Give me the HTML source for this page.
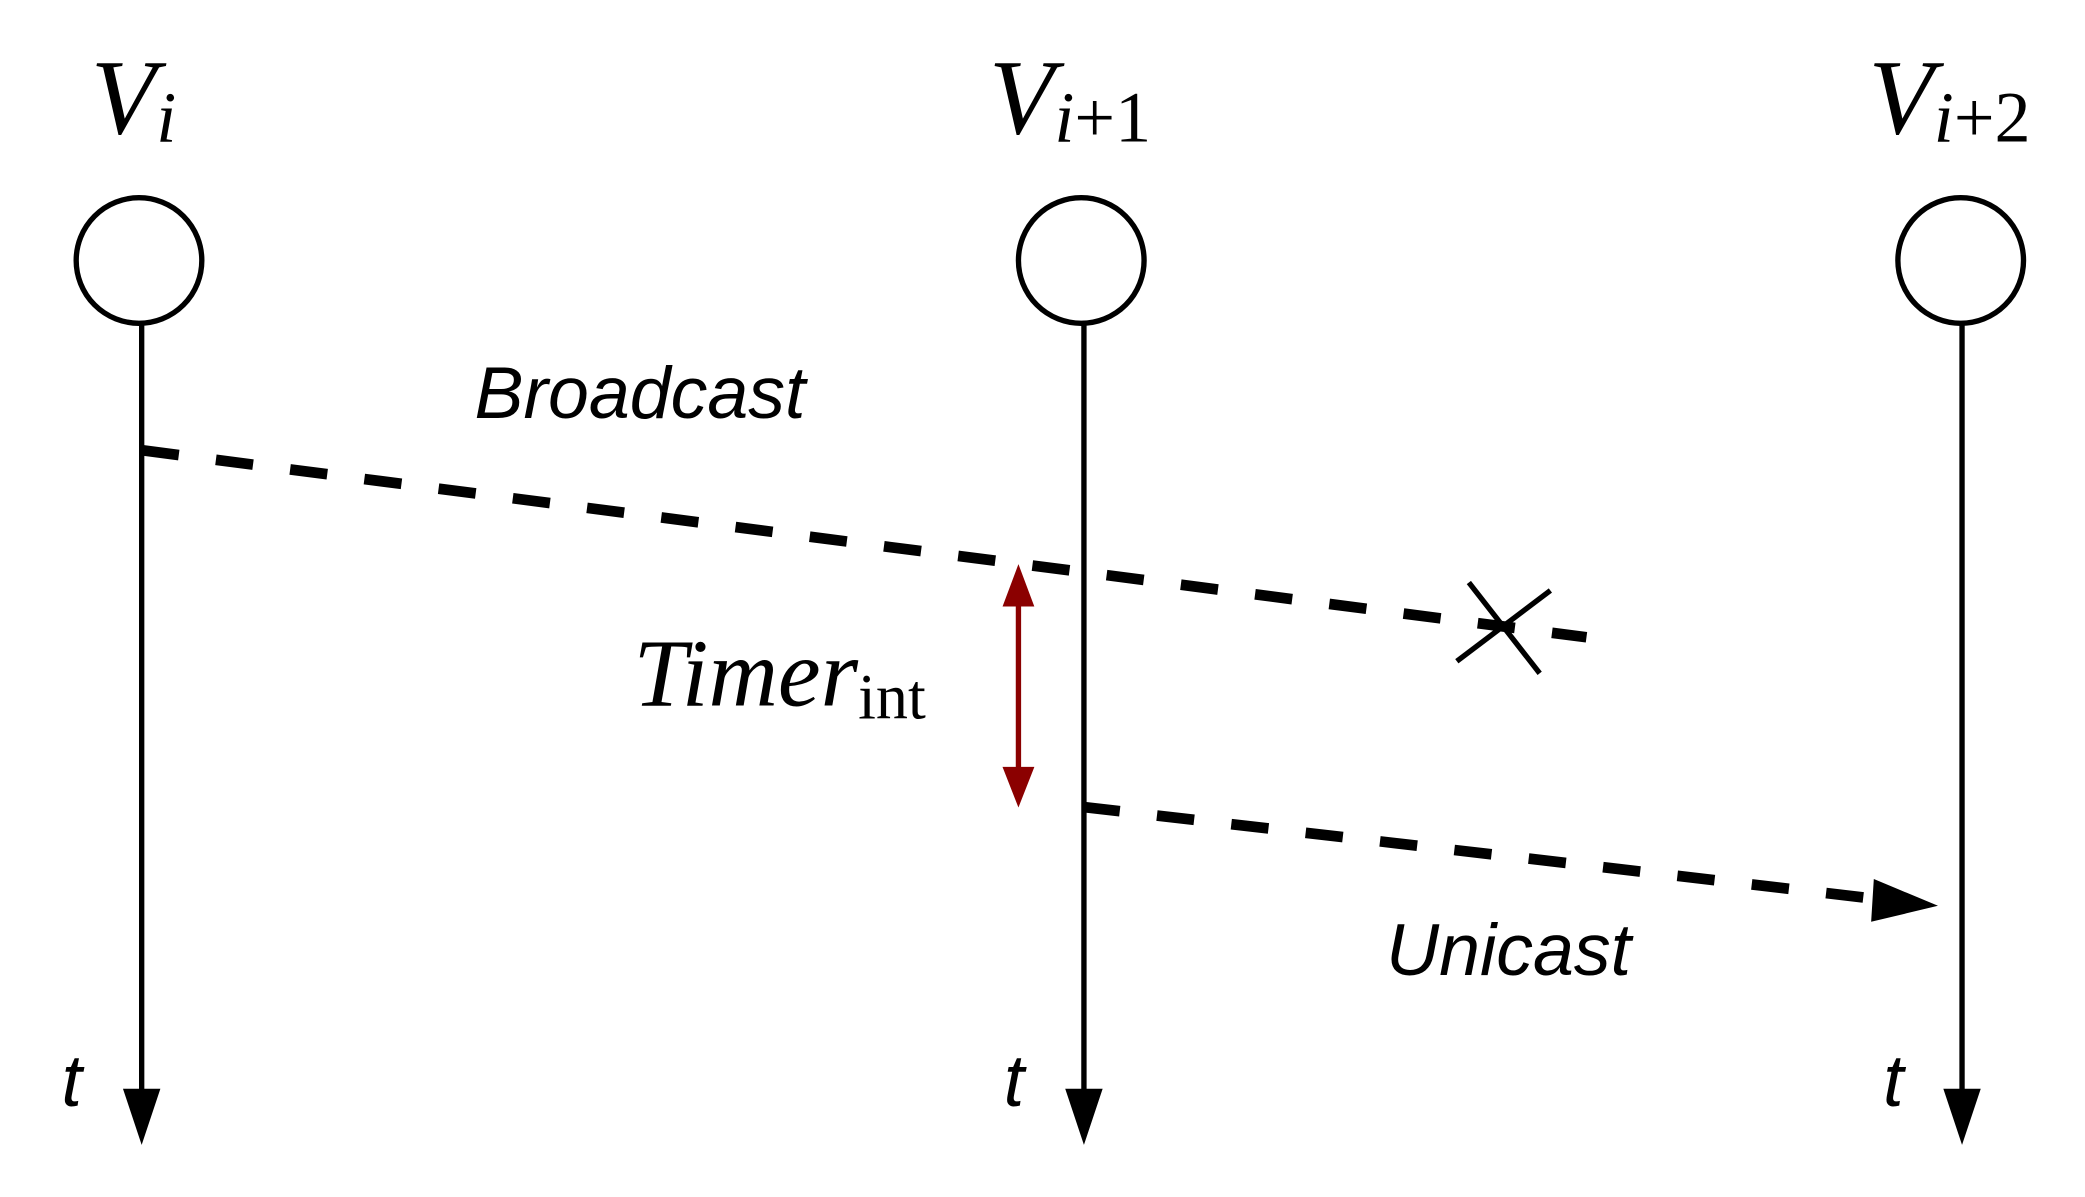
<!DOCTYPE html>
<html><head><style>html,body{margin:0;padding:0;background:#fff;}svg{display:block}</style></head>
<body>
<svg width="2085" height="1197" viewBox="0 0 1560 896" preserveAspectRatio="none" xmlns="http://www.w3.org/2000/svg">
<g fill="none" stroke="#000" stroke-width="4">
<circle cx="104" cy="195" r="47"/>
<circle cx="809" cy="195" r="47"/>
<circle cx="1467" cy="195" r="47"/>
<line x1="106" y1="242" x2="106" y2="825"/>
<line x1="811" y1="242" x2="811" y2="825"/>
<line x1="1468" y1="242" x2="1468" y2="825"/>
</g>
<g fill="#000">
<polygon points="92,815 120,815 106,857"/>
<polygon points="797,815 825,815 811,857"/>
<polygon points="1454,815 1482,815 1468,857"/>
<polygon points="1402,658 1450,678 1400,690"/>
</g>
<g stroke="#000" stroke-width="8" stroke-dasharray="28,28" fill="none">
<line x1="106" y1="337" x2="1187" y2="477"/>
<line x1="810" y1="604" x2="1405" y2="673"/>
</g>
<g stroke="#000" stroke-width="4">
<line x1="1099" y1="436" x2="1152" y2="504"/>
<line x1="1090" y1="495" x2="1160" y2="442"/>
</g>
<g stroke="#8b0000" stroke-width="4" fill="#8b0000">
<line x1="762" y1="440" x2="762" y2="588"/>
<polygon points="753,452 762,428 771,452"/>
<polygon points="753,576 762,599 771,576"/>
</g>
<g font-family="Liberation Serif, serif" font-style="italic" fill="#000">
<text x="68" y="100" font-size="80">V<tspan font-size="54" dy="6">i</tspan></text>
<text x="740" y="100" font-size="80">V<tspan font-size="54" dy="6">i</tspan><tspan font-style="normal" font-size="54">+1</tspan></text>
<text x="1398" y="100" font-size="80">V<tspan font-size="54" dy="6">i</tspan><tspan font-style="normal" font-size="54">+2</tspan></text>
<text x="474" y="528" font-size="72">Timer<tspan font-style="normal" font-size="48" dy="10">int</tspan></text>
</g>
<g font-family="Liberation Sans, sans-serif" font-style="italic" fill="#000" font-size="55">
<text x="355" y="313">Broadcast</text>
<text x="1037" y="730">Unicast</text>
<text x="46" y="828">t</text>
<text x="751" y="828">t</text>
<text x="1409" y="828">t</text>
</g>
</svg>
</body></html>
